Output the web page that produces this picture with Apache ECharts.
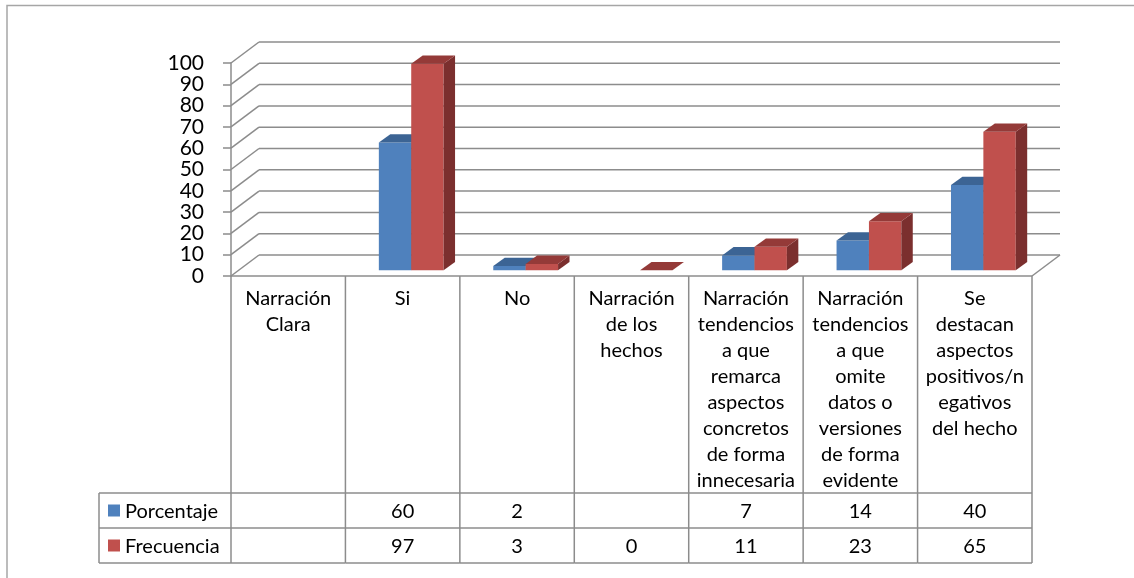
<!DOCTYPE html>
<html>
<head>
<meta charset="utf-8">
<script src="https://cdn.jsdelivr.net/npm/echarts@6/dist/echarts.min.js"></script>
<style>
html,body{margin:0;padding:0;background:#fff;}
#chart{width:1134px;height:578px;}
</style>
</head>
<body>
<div id="chart"></div>
<script>
// ---- data ----
const categories = [
  'Narración\nClara',
  'Si',
  'No',
  'Narración\nde los\nhechos',
  'Narración\ntendencios\na que\nremarca\naspectos\nconcretos\nde forma\ninnecesaria',
  'Narración\ntendencios\na que\nomite\ndatos o\nversiones\nde forma\nevidente',
  'Se\ndestacan\naspectos\npositivos/n\negativos\ndel hecho'
];
const seriesNames = ['Porcentaje', 'Frecuencia'];
const porcentaje = [null, 60, 2, null, 7, 14, 40];
const frecuencia = [null, 97, 3, 0, 11, 23, 65];
const yTicks = [0, 10, 20, 30, 40, 50, 60, 70, 80, 90, 100];

// ---- style ----
const FONT = 'Lato';
const GRID_COLOR = '#8c8c8c';
const faceColors = [
  { front: '#4F81BD', top: '#3C6494', side: '#355985' },
  { front: '#C0504D', top: '#943A38', side: '#7B2F2E' }
];
const DX = 28, DY = -21;          // wall depth
const HEADER_H = 217, ROW_H = 35, LEGEND_LEFT = 99;

const chart = echarts.init(document.getElementById('chart'), null, { renderer: 'canvas' });

function line(x1, y1, x2, y2, color, w) {
  return { type: 'line', shape: { x1, y1, x2, y2 }, style: { stroke: color || GRID_COLOR, lineWidth: w || 1.5 }, silent: true };
}

function wallItem(params, api) {
  const v = api.value(1);
  const c = api.coord([0, v]);
  const band = api.size([1, 0])[0];
  const xl = c[0] - band / 2;
  const xr = xl + band * categories.length;
  const y = c[1];
  const ch = [
    line(xl, y, xl + DX, y + DY),
    line(xl + DX, y + DY, xr + DX, y + DY)
  ];
  if (v === 0) {
    ch.push(line(xl, y, xr, y));
    ch.push(line(xr, y, xr + DX, y + DY));
  }
  if (v === 100) {
    // top back edge above 100 line continues to wall top
  }
  return { type: 'group', children: ch };
}

function barItem(sIdx) {
  return function (params, api) {
    const i = api.value(0), v = api.value(1);
    const c = api.coord([i, v]);
    const c0 = api.coord([i, 0]);
    const band = api.size([1, 0])[0];
    const bw = band * 0.283;
    const sx = band * 0.075, sy = -5.7;
    const ddx = band * 0.1, ddy = -8.3;
    const left = c[0] + sx - bw + sIdx * bw;
    const right = left + bw;
    const top = c[1] + sy;
    const bot = c0[1] + sy;
    const col = faceColors[sIdx];
    const ch = [];
    if (bot - top > 0) {
      ch.push({ type: 'rect', shape: { x: left, y: top, width: bw, height: bot - top }, style: { fill: col.front } });
      ch.push({ type: 'polygon', shape: { points: [[right, top], [right + ddx, top + ddy], [right + ddx, bot + ddy], [right, bot]] }, style: { fill: col.side } });
    }
    ch.push({ type: 'polygon', shape: { points: [[left, top], [right, top], [right + ddx, top + ddy], [left + ddx, top + ddy]] }, style: { fill: col.top } });
    return { type: 'group', children: ch };
  };
}

function tableItem(params, api) {
  const i = api.value(0);
  const c0 = api.coord([i, 0]);
  const band = api.size([1, 0])[0];
  const xl = c0[0] - band / 2, xr = xl + band, cx = c0[0];
  const y0 = c0[1];
  const hb = y0 + HEADER_H, r1 = hb + ROW_H, r2 = r1 + ROW_H;
  const ch = [];
  ch.push(line(xr, y0, xr, r2));
  ch.push(line(xl, hb, xr, hb));
  ch.push(line(xl, r1, xr, r1));
  ch.push(line(xl, r2, xr, r2));
  ch.push({
    type: 'text', silent: true,
    style: { text: categories[i], x: cx, y: y0 + 10, align: 'center', verticalAlign: 'top',
      font: '20px ' + FONT, lineHeight: 26, fill: '#000' }
  });
  const vals = [porcentaje[i], frecuencia[i]];
  vals.forEach((v, k) => {
    if (v === null || v === undefined) return;
    ch.push({
      type: 'text', silent: true,
      style: { text: String(v), x: cx, y: hb + ROW_H * k + ROW_H / 2 + 1, align: 'center', verticalAlign: 'middle',
        font: '20px ' + FONT, fill: '#000' }
    });
  });
  if (i === 0) {
    ch.push(line(xl, y0, xl, r2));
    ch.push(line(LEGEND_LEFT, hb, xl, hb));
    ch.push(line(LEGEND_LEFT, r1, xl, r1));
    ch.push(line(LEGEND_LEFT, r2, xl, r2));
    ch.push(line(LEGEND_LEFT, hb, LEGEND_LEFT, r2));
    seriesNames.forEach((n, k) => {
      const cy = hb + ROW_H * k + ROW_H / 2;
      ch.push({ type: 'rect', silent: true, shape: { x: LEGEND_LEFT + 9, y: cy - 6, width: 12, height: 12 }, style: { fill: faceColors[k].front } });
      ch.push({ type: 'text', silent: true, style: { text: n, x: LEGEND_LEFT + 26, y: cy + 1, align: 'left', verticalAlign: 'middle', font: '20px ' + FONT, fill: '#000' } });
    });
  }
  return { type: 'group', children: ch };
}

const option = {
  animation: false,
  backgroundColor: '#fff',
  graphic: [
    { type: 'polyline', shape: { points: [[7, 578], [7, 5.5], [1134, 5.5]] }, style: { stroke: '#a6a6a6', lineWidth: 1.5, fill: null }, silent: true }
  ],
  grid: { left: 231, top: 63, width: 801, height: 213, containLabel: false },
  xAxis: {
    type: 'category', data: categories,
    axisLine: { show: false }, axisTick: { show: false }, axisLabel: { show: false }, splitLine: { show: false }
  },
  yAxis: {
    type: 'value', min: 0, max: 100, interval: 10,
    axisLine: { show: true, lineStyle: { color: GRID_COLOR, width: 1.5 } },
    axisTick: { show: true, length: 8, lineStyle: { color: GRID_COLOR, width: 1.5 } },
    axisLabel: { show: true, margin: 27, fontFamily: FONT, fontSize: 21, color: '#000' },
    splitLine: { show: false }
  },
  series: [
    {
      type: 'custom', name: 'wall', renderItem: wallItem, clip: false, silent: true,
      data: yTicks.map(v => [0, v]), z: 1
    },
    {
      type: 'custom', name: seriesNames[0], renderItem: barItem(0), clip: false, z: 3,
      data: porcentaje.map((v, i) => [i, v]).filter(d => d[1] !== null)
    },
    {
      type: 'custom', name: seriesNames[1], renderItem: barItem(1), clip: false, z: 3,
      data: frecuencia.map((v, i) => [i, v]).filter(d => d[1] !== null)
    },
    {
      type: 'custom', name: 'table', renderItem: tableItem, clip: false, silent: true, z: 2,
      data: categories.map((c, i) => [i, 0])
    }
  ]
};
chart.setOption(option);
</script>
</body>
</html>
